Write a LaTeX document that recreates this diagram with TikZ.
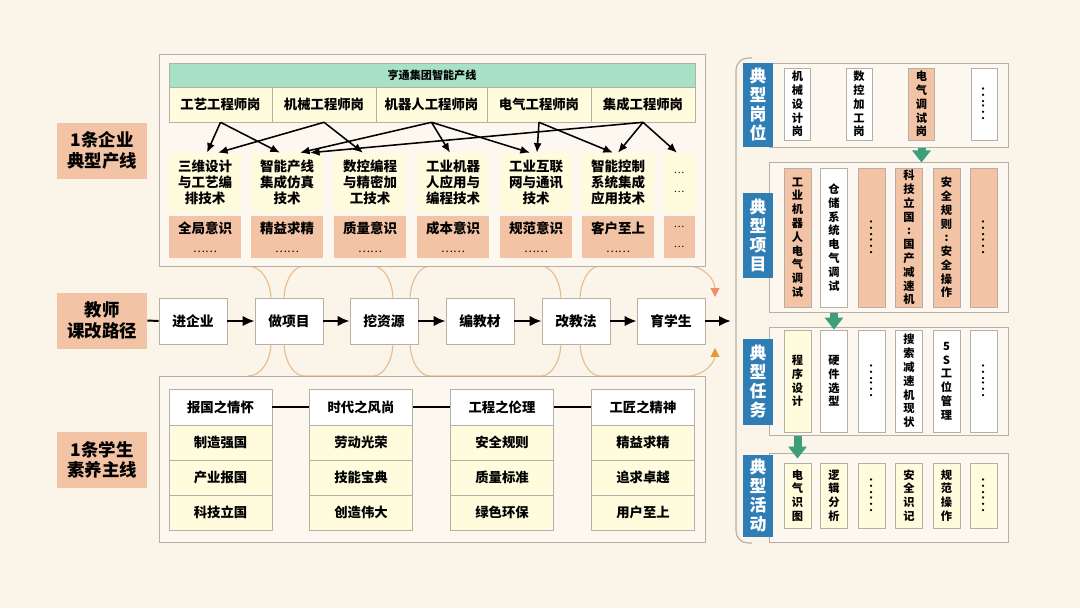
\documentclass[tikz,border=0pt]{standalone}
\usepackage{fontspec}
\setmainfont{Noto Sans CJK SC}
\usepackage{graphicx}
\usetikzlibrary{arrows.meta}
\definecolor{bgcream}{HTML}{FBF4E9}
\definecolor{panelfill}{HTML}{FCF8F0}
\definecolor{salmon}{HTML}{F3C3A5}
\definecolor{paleyellow}{HTML}{FEFCDD}
\definecolor{mint}{HTML}{A8E2C6}
\definecolor{steelblue}{HTML}{2E7DB5}
\definecolor{arrowgreen}{HTML}{3D9E7A}
\definecolor{loopline}{HTML}{E9BD8B}
\definecolor{coral}{HTML}{E98F6C}
\definecolor{amber}{HTML}{E8983C}
\definecolor{panelgrey}{HTML}{B5AFA8}

\begin{document}
\begin{tikzpicture}[x=0.025cm, y=-0.025cm,
  every node/.style={inner sep=0pt, align=center},
  sidelab/.style={fill=salmon, minimum width=2.25cm, minimum height=1.4cm, font=\bfseries\fontsize{12.4}{14.5}\selectfont},
  posbox/.style={draw=panelgrey, fill=paleyellow, minimum height=0.875cm, font=\bfseries\fontsize{9.5}{11}\selectfont},
  techbox/.style={fill=paleyellow, minimum width=1.8cm, minimum height=1.475cm, font=\bfseries\fontsize{9.6}{11.4}\selectfont},
  mindbox/.style={fill=salmon, minimum width=1.8cm, minimum height=1.05cm, font=\bfseries\fontsize{9.6}{13.5}\selectfont},
  stepbox/.style={draw=panelgrey, fill=white, minimum width=1.7cm, minimum height=1.15cm, font=\bfseries\fontsize{9.8}{11}\selectfont},
  headbox/.style={draw=panelgrey, fill=white, minimum width=2.575cm, minimum height=0.9cm, font=\bfseries\fontsize{9.5}{11}\selectfont},
  valbox/.style={draw=panelgrey, fill=paleyellow, minimum width=2.575cm, minimum height=0.875cm, font=\bfseries\fontsize{9.5}{11}\selectfont},
  panel/.style={draw=panelgrey, fill=panelfill, line width=0.7pt},
  bluelab/.style={fill=steelblue, text=white, minimum width=0.75cm, font=\bfseries\fontsize{12}{13.5}\selectfont},
  rbox/.style={draw=panelgrey, line width=0.6pt, font=\bfseries\fontsize{8}{9.8}\selectfont},
  tarrow/.style={-{Latex[length=0.24cm,width=0.2cm]}, line width=1.1pt},
  marrow/.style={-{Latex[length=0.3cm,width=0.26cm]}, line width=1.6pt},
  swirl/.style={draw=loopline, line width=0.8pt},
  garrow/.style={draw=arrowgreen, line width=0.2cm, -{Triangle[length=0.3cm,width=0.45cm]}}]

  % Fond
  \fill[bgcream] (0,0) rectangle (1080,608);

  % Étiquettes à gauche
  \node[sidelab] (labA) at (102,150.5) {1条企业\\典型产线};
  \node[sidelab] (labB) at (102,320.5) {教师\\课改路径};
  \node[sidelab] (labC) at (102,460) {1条学生\\素养主线};

  % Boucles
  \draw[swirl] (248,266) .. controls (261,266) and (271,281) .. (271,300) -- (271,342) .. controls (271,361) and (261,376) .. (248,376);
  \draw[swirl] (284,300) .. controls (284,282) and (293,266) .. (304,266) -- (373,266) .. controls (384,266) and (393,282) .. (393,300)
    (284,342) .. controls (284,360) and (293,376) .. (304,376) -- (373,376) .. controls (384,376) and (393,360) .. (393,342);
  \draw[swirl] (410,300) .. controls (410,282) and (419,266) .. (430,266) -- (541,266) .. controls (552,266) and (561,282) .. (561,300)
    (410,342) .. controls (410,360) and (419,376) .. (430,376) -- (541,376) .. controls (552,376) and (561,360) .. (561,342);
  \draw[swirl, -{Triangle[length=0.22cm,width=0.22cm,color=coral]}] (580,300) .. controls (580,282) and (589,266) .. (600,266) -- (688,266) .. controls (704,266) and (715,280) .. (715,297);
  \draw[swirl, -{Triangle[length=0.22cm,width=0.22cm,color=amber]}] (580,342) .. controls (580,360) and (589,376) .. (600,376) -- (688,376) .. controls (704,376) and (715,362) .. (715,348);

  % Panneau du haut
  \draw[panel] (159,54) rectangle (705,266);
  \node[draw=panelgrey, fill=mint, minimum width=13.15cm, minimum height=0.6cm, font=\bfseries\fontsize{7.9}{9}\selectfont] (hdr) at (432,75) {亨通集团智能产线};
  \node[posbox, minimum width=2.575cm] (p1) at (220.5,104.5) {工艺工程师岗};
  \node[posbox, minimum width=2.6cm] (p2) at (324,104.5) {机械工程师岗};
  \node[posbox, minimum width=2.775cm] (p3) at (431.5,104.5) {机器人工程师岗};
  \node[posbox, minimum width=2.6cm] (p4) at (539,104.5) {电气工程师岗};
  \node[posbox, minimum width=2.6cm] (p5) at (643,104.5) {集成工程师岗};

  \node[techbox] (t1) at (205,182.5) {三维设计\\与工艺编\\排技术};
  \node[techbox] (t2) at (287,182.5) {智能产线\\集成仿真\\技术};
  \node[techbox] (t3) at (370,182.5) {数控编程\\与精密加\\工技术};
  \node[techbox] (t4) at (453,182.5) {工业机器\\人应用与\\编程技术};
  \node[techbox] (t5) at (536,182.5) {工业互联\\网与通讯\\技术};
  \node[techbox] (t6) at (618,182.5) {智能控制\\系统集成\\应用技术};
  \node[techbox, minimum width=0.775cm, font=\mdseries\fontsize{7}{14}\selectfont] (t7) at (679,182.5) {…\\…};

  \node[mindbox] (s1) at (205,237) {全局意识\\{\mdseries\footnotesize ……}};
  \node[mindbox] (s2) at (287,237) {精益求精\\{\mdseries\footnotesize ……}};
  \node[mindbox] (s3) at (370,237) {质量意识\\{\mdseries\footnotesize ……}};
  \node[mindbox] (s4) at (453,237) {成本意识\\{\mdseries\footnotesize ……}};
  \node[mindbox] (s5) at (536,237) {规范意识\\{\mdseries\footnotesize ……}};
  \node[mindbox] (s6) at (618,237) {客户至上\\{\mdseries\footnotesize ……}};
  \node[mindbox, minimum width=0.775cm, font=\mdseries\fontsize{7}{14}\selectfont] (s7) at (679,237) {…\\…};

  % Liens postes -> techniques
  \draw[tarrow] (p1.south) -- ([xshift=0.05cm]t1.north);
  \draw[tarrow] (p1.south) -- ([xshift=-0.175cm]t2.north);
  \draw[tarrow] (p2.south) -- ([xshift=0.325cm]t1.north);
  \draw[tarrow] (p2.south) -- ([xshift=-0.175cm]t3.north);
  \draw[tarrow] (p3.south) -- ([xshift=0.325cm]t2.north);
  \draw[tarrow] (p3.south) -- ([xshift=-0.075cm]t4.north);
  \draw[tarrow] (p3.south) -- ([xshift=-0.15cm]t5.north);
  \draw[tarrow] (p4.south) -- ([xshift=0.025cm]t5.north);
  \draw[tarrow] (p4.south) -- ([xshift=-0.125cm]t6.north);
  \draw[tarrow] (p5.south) -- ([xshift=0.575cm]t2.north);
  \draw[tarrow] (p5.south) -- (t6.north);
  \draw[tarrow] (p5.south) -- ([xshift=-0.05cm]t7.north);

  % Chemin du milieu
  \node[stepbox] (m1) at (193,321) {进企业};
  \node[stepbox] (m2) at (289,321) {做项目};
  \node[stepbox] (m3) at (384,321) {挖资源};
  \node[stepbox] (m4) at (480,321) {编教材};
  \node[stepbox] (m5) at (576,321) {改教法};
  \node[stepbox] (m6) at (671,321) {育学生};
  \coordinate (mend) at (731,321);
  \draw[line width=1.4pt] (labB.east) -- (m1.west);
  \draw[marrow] (m1) -- (m2);
  \draw[marrow] (m2) -- (m3);
  \draw[marrow] (m3) -- (m4);
  \draw[marrow] (m4) -- (m5);
  \draw[marrow] (m5) -- (m6);
  \draw[marrow] (m6) -- (mend);

  % Panneau du bas
  \draw[panel] (159,376) rectangle (705,542);
  \node[headbox] (g1) at (220.5,407) {报国之情怀};
  \node[valbox] (g1a) at (220.5,442.5) {制造强国};
  \node[valbox] (g1b) at (220.5,477.5) {产业报国};
  \node[valbox] (g1c) at (220.5,512.5) {科技立国};
  \node[headbox] (g2) at (361,407) {时代之风尚};
  \node[valbox] (g2a) at (361,442.5) {劳动光荣};
  \node[valbox] (g2b) at (361,477.5) {技能宝典};
  \node[valbox] (g2c) at (361,512.5) {创造伟大};
  \node[headbox] (g3) at (502,407) {工程之伦理};
  \node[valbox] (g3a) at (502,442.5) {安全规则};
  \node[valbox] (g3b) at (502,477.5) {质量标准};
  \node[valbox] (g3c) at (502,512.5) {绿色环保};
  \node[headbox] (g4) at (643,407) {工匠之精神};
  \node[valbox] (g4a) at (643,442.5) {精益求精};
  \node[valbox] (g4b) at (643,477.5) {追求卓越};
  \node[valbox] (g4c) at (643,512.5) {用户至上};
  \draw[line width=1.4pt] (g1) -- (g2);
  \draw[line width=1.4pt] (g2) -- (g3);
  \draw[line width=1.4pt] (g3) -- (g4);

  % Colonne de droite
  \draw[draw=panelgrey, line width=0.8pt, rounded corners=0.3cm] (752,58) -- (736,58) -- (736,543) -- (752,543);
  \node[panel, minimum width=5.95cm, minimum height=2.1cm] (pan1) at (889,105) {};
  \node[panel, minimum width=5.95cm, minimum height=3.725cm] (pan2) at (889,237.5) {};
  \node[panel, minimum width=5.95cm, minimum height=2.7cm] (pan3) at (889,381) {};
  \node[panel, minimum width=5.95cm, minimum height=2.225cm] (pan4) at (889,497.5) {};
  \node[bluelab, minimum height=2.1cm] (bl1) at (758,105) {典\\型\\岗\\位};
  \node[bluelab, minimum height=2.125cm] (bl2) at (758,235.5) {典\\型\\项\\目};
  \node[bluelab, minimum height=2.15cm] (bl3) at (758,382) {典\\型\\任\\务};
  \node[bluelab, minimum height=2.05cm] (bl4) at (758,496) {典\\型\\活\\动};

  \node[rbox, fill=white, minimum width=0.65cm, minimum height=1.8cm] (a1) at (797.5,104) {机\\械\\设\\计\\岗};
  \node[rbox, fill=white, minimum width=0.65cm, minimum height=1.8cm] (a2) at (859,104) {数\\控\\加\\工\\岗};
  \node[rbox, fill=salmon, minimum width=0.65cm, minimum height=1.8cm] (a3) at (921.5,104) {电\\气\\调\\试\\岗};
  \node[rbox, fill=white, minimum width=0.65cm, minimum height=1.8cm] (a4) at (984,104) {{\mdseries\fontsize{12}{12}\selectfont\rotatebox{90}{……}}};

  \node[rbox, fill=salmon, minimum width=0.675cm, minimum height=3.475cm] (b1) at (797.5,237.5) {工\\业\\机\\器\\人\\电\\气\\调\\试};
  \node[rbox, fill=white, minimum width=0.675cm, minimum height=3.475cm] (b2) at (834,237.5) {仓\\储\\系\\统\\电\\气\\调\\试};
  \node[rbox, fill=salmon, minimum width=0.675cm, minimum height=3.475cm] (b3) at (871.5,237.5) {{\mdseries\fontsize{12}{12}\selectfont\rotatebox{90}{……}}};
  \node[rbox, fill=salmon, minimum width=0.675cm, minimum height=3.475cm] (b4) at (909,237.5) {科\\技\\立\\国\\:\\国\\产\\减\\速\\机};
  \node[rbox, fill=salmon, minimum width=0.675cm, minimum height=3.475cm] (b5) at (946.5,237.5) {安\\全\\规\\则\\:\\安\\全\\操\\作};
  \node[rbox, fill=salmon, minimum width=0.675cm, minimum height=3.475cm] (b6) at (984,237.5) {{\mdseries\fontsize{12}{12}\selectfont\rotatebox{90}{……}}};

  \node[rbox, fill=paleyellow, minimum width=0.675cm, minimum height=2.55cm] (c1) at (797.5,381) {程\\序\\设\\计};
  \node[rbox, fill=white, minimum width=0.675cm, minimum height=2.55cm] (c2) at (834,381) {硬\\件\\选\\型};
  \node[rbox, fill=white, minimum width=0.675cm, minimum height=2.55cm] (c3) at (871.5,381) {{\mdseries\fontsize{12}{12}\selectfont\rotatebox{90}{……}}};
  \node[rbox, fill=white, minimum width=0.675cm, minimum height=2.55cm] (c4) at (909,381) {搜\\索\\减\\速\\机\\现\\状};
  \node[rbox, fill=white, minimum width=0.675cm, minimum height=2.55cm] (c5) at (946.5,381) {5\\S\\工\\位\\管\\理};
  \node[rbox, fill=white, minimum width=0.675cm, minimum height=2.55cm] (c6) at (984,381) {{\mdseries\fontsize{12}{12}\selectfont\rotatebox{90}{……}}};

  \node[rbox, fill=paleyellow, minimum width=0.675cm, minimum height=1.625cm] (d1) at (797.5,495.5) {电\\气\\识\\图};
  \node[rbox, fill=paleyellow, minimum width=0.675cm, minimum height=1.625cm] (d2) at (834,495.5) {逻\\辑\\分\\析};
  \node[rbox, fill=paleyellow, minimum width=0.675cm, minimum height=1.625cm] (d3) at (871.5,495.5) {{\mdseries\fontsize{12}{12}\selectfont\rotatebox{90}{……}}};
  \node[rbox, fill=paleyellow, minimum width=0.675cm, minimum height=1.625cm] (d4) at (909,495.5) {安\\全\\识\\记};
  \node[rbox, fill=paleyellow, minimum width=0.675cm, minimum height=1.625cm] (d5) at (946.5,495.5) {规\\范\\操\\作};
  \node[rbox, fill=paleyellow, minimum width=0.675cm, minimum height=1.625cm] (d6) at (984,495.5) {{\mdseries\fontsize{12}{12}\selectfont\rotatebox{90}{……}}};

  % Flèches vertes
  \draw[garrow] (a3 |- pan1.south) -- (a3 |- pan2.north);
  \draw[garrow] (b2 |- pan2.south) -- (c2.north);
  \draw[garrow] (c1 |- pan3.south) -- ([yshift=0.1cm]d1.north);
\end{tikzpicture}
\end{document}
